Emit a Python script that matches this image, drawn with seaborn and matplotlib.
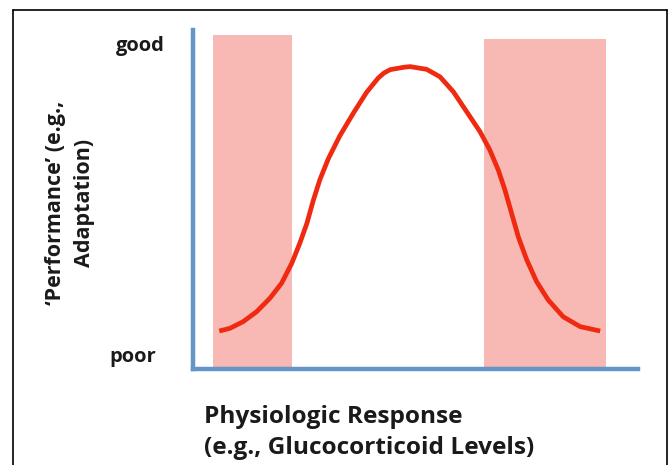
import matplotlib
matplotlib.use("Agg")
import matplotlib.pyplot as plt
import seaborn as sns
import pandas as pd
from matplotlib.lines import Line2D
from matplotlib.patches import Rectangle

# inverted-U curve (x: response 0-100, y: performance 0-100)
response = [5.9, 8.3, 11.3, 14.3, 17.3, 19.9, 22.2, 24.0, 25.6, 27.0, 28.5,
            30.4, 33.0, 36.0, 39.0, 41.6, 42.9, 44.3, 47.3, 48.8, 52.5, 55.5,
            58.5, 61.5, 64.5, 66.7, 68.6, 70.1, 71.6, 73.1, 75.0, 77.2, 79.8,
            83.2, 87.0, 91.5]
performance = [11.2, 12.0, 14.0, 16.9, 20.9, 25.3, 31.2, 37.1, 43.0, 49.6, 55.8,
               62.0, 68.8, 75.4, 81.6, 85.8, 87.3, 88.3, 89.0, 89.2, 88.4, 86.2,
               81.8, 75.9, 70.0, 64.6, 58.7, 52.8, 45.9, 39.0, 32.2, 25.8, 20.4,
               15.4, 12.5, 11.2]

# shaded zones: (x start, x end, top)
zone_x0 = [4.5, 65.4]
zone_x1 = [22.2, 92.8]
zone_top = [98.5, 97.3]

df = pd.DataFrame({"response": response, "performance": performance})

sns.set_style("white")
plt.rcParams["font.family"] = ["Open Sans", "DejaVu Sans"]

W, H = 671, 465
fig = plt.figure(figsize=(W / 100, H / 100), dpi=100)

def fx(px):
    return px / W

def fy(py):
    return 1 - py / H

ax = fig.add_axes([fx(193), fy(369), fx(638) - fx(193), fy(30) - fy(369)])

pink = "#f8b8b3"
for x0, x1, top in zip(zone_x0, zone_x1, zone_top):
    ax.add_patch(Rectangle((x0, 0), x1 - x0, top, color=pink, lw=0, zorder=1))

sns.lineplot(data=df, x="response", y="performance", ax=ax, color="#ef2a10",
             linewidth=3.4, zorder=3, solid_capstyle="butt", solid_joinstyle="round")

ax.set_xlim(0, 100)
ax.set_ylim(0, 100)
ax.set_xticks([])
ax.set_yticks([])
ax.set_xlabel("")
ax.set_ylabel("")

blue = "#6595c8"
for side in ["top", "right"]:
    ax.spines[side].set_visible(False)
for side in ["left", "bottom"]:
    ax.spines[side].set_color(blue)
    ax.spines[side].set_linewidth(3.2)
    ax.spines[side].set_zorder(4)

# labels
bold = dict(fontweight="bold", color="#1a1a1a")
fig.text(fx(165), fy(46), "good", ha="right", va="center", fontsize=14.5, **bold)
fig.text(fx(156), fy(357), "poor", ha="right", va="center", fontsize=14.5, **bold)
fig.text(fx(70), fy(203), "\u2018Performance\u2019 (e.g.,\nAdaptation)", rotation=90,
         ha="center", va="center", fontsize=15.5, linespacing=1.45, **bold)
fig.text(fx(204), fy(417), "Physiologic Response", ha="left", va="center",
         fontsize=17.6, **bold)
fig.text(fx(204), fy(448), "(e.g., Glucocorticoid Levels)", ha="left", va="center",
         fontsize=17.6, **bold)

# thin frame around the slide
for xs, ys in [([13, 667], [10, 10]), ([13, 13], [10, 465]), ([667, 667], [10, 465])]:
    fig.add_artist(Line2D([fx(v) for v in xs], [fy(v) for v in ys],
                          color="black", linewidth=1.2))

fig.savefig("out.png", dpi=100)
